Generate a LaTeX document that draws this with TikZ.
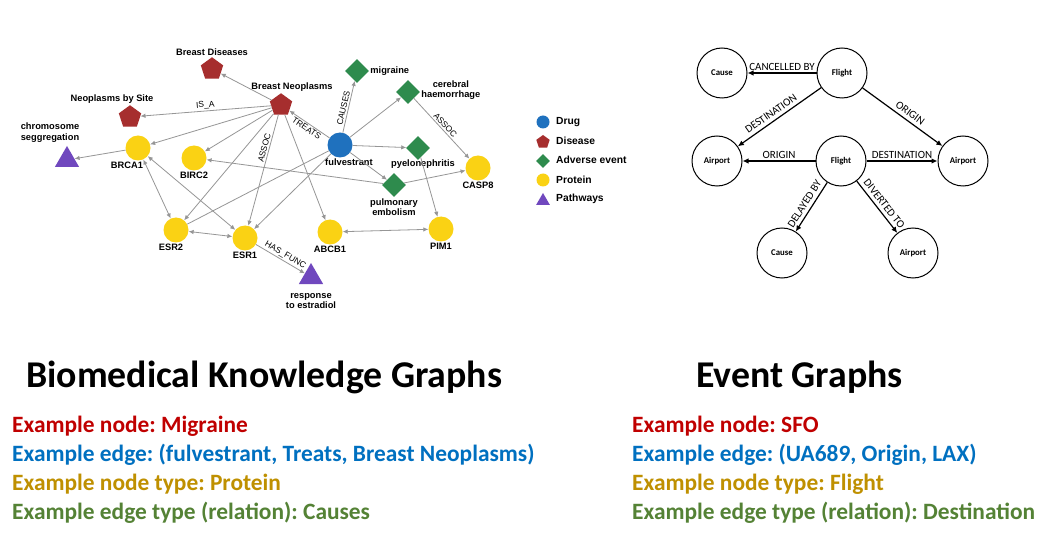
\documentclass[tikz,border=0pt]{standalone}
\usepackage{fontspec}
\setmainfont{Liberation Sans}
\newfontfamily\calibri{Carlito}
\usetikzlibrary{shapes.geometric,arrows.meta}
\definecolor{cdisease}{RGB}{166,46,46}
\definecolor{cadverse}{RGB}{46,139,77}
\definecolor{cdrug}{RGB}{31,113,190}
\definecolor{cprotein}{RGB}{250,210,20}
\definecolor{cpath}{RGB}{112,72,190}
\definecolor{cedge}{RGB}{150,150,150}
\definecolor{tred}{RGB}{192,0,0}
\definecolor{tblue}{RGB}{0,112,192}
\definecolor{tgold}{RGB}{191,144,0}
\definecolor{tgreen}{RGB}{84,130,53}
\frenchspacing
\begin{document}
\begin{tikzpicture}[x=1pt,y=-1pt,
  nlab/.style={font=\bfseries\fontsize{9.3}{10.5}\selectfont, inner sep=1pt, align=center},
  elab/.style={font=\fontsize{8.5}{9}\selectfont, inner sep=1.5pt},
  disease/.style={regular polygon, regular polygon sides=5, fill=cdisease, minimum size=23.5pt, inner sep=0pt},
  adverse/.style={diamond, fill=cadverse, minimum size=24pt, inner sep=0pt},
  drug/.style={circle, fill=cdrug, minimum size=25pt, inner sep=0pt},
  protein/.style={circle, fill=cprotein, minimum size=25pt, inner sep=0pt},
  pathway/.style={regular polygon, regular polygon sides=3, fill=cpath, minimum size=28pt, inner sep=0pt},
  gedge/.style={draw=cedge, line width=0.8pt, -{Latex[length=5pt,width=4.5pt]}},
  gboth/.style={draw=cedge, line width=0.8pt, {Latex[length=5pt,width=4.5pt]}-{Latex[length=5pt,width=4.5pt]}},
  gplain/.style={draw=cedge, line width=0.8pt},
  legtxt/.style={font=\bfseries\fontsize{10.3}{11}\selectfont, anchor=west, inner sep=0pt},
  ev/.style={circle, draw=black, line width=1pt, minimum size=50pt, inner sep=0pt, font=\calibri\bfseries\fontsize{8.8}{9}\selectfont},
  eedge/.style={draw=black, line width=1.2pt, -{Latex[length=6pt,width=5.5pt]}},
  evlab/.style={font=\calibri\fontsize{11}{12}\selectfont, inner sep=2pt},
  sevlab/.style={evlab, inner sep=3.5pt},
  title/.style={font=\calibri\bfseries\fontsize{37.8}{40}\selectfont, anchor=base west, inner sep=0pt},
  ex/.style={font=\calibri\bfseries\fontsize{23.4}{26}\selectfont, anchor=base west, inner sep=0pt}
]
\useasboundingbox (0,0) rectangle (1054,537);
\fill[white] (0,0) rectangle (1054,537);

% ---------- Biomedical knowledge graph ----------
\node[disease, label={[nlab]above:Breast Diseases}] (bd) at (212,69) {};
\node[disease, label={[nlab,xshift=11pt]above:Breast Neoplasms}] (bn) at (281,105) {};
\node[disease, label={[nlab,xshift=-18pt]above:Neoplasms by Site}] (nbs) at (130,117) {};
\node[pathway, label={[nlab,xshift=-17pt,yshift=2pt]above:chromosome\\seggregation}] (chr) at (67,160) {};
\node[protein, label={[nlab,xshift=-11pt]below:BRCA1}] (brca1) at (138,148) {};
\node[protein, label={[nlab]below:BIRC2}] (birc2) at (194,158) {};
\node[protein, label={[nlab,xshift=-5pt]below:ESR2}] (esr2) at (176,230) {};
\node[protein, label={[nlab]below:ESR1}] (esr1) at (245,238) {};
\node[pathway, label={[nlab,yshift=-8pt]below:response\\to estradiol}] (resp) at (311,277) {};
\node[protein, label={[nlab]below:ABCB1}] (abcb1) at (330,232) {};
\node[drug, label={[nlab,xshift=9pt]below:fulvestrant}] (ful) at (340,145) {};
\node[adverse, label={[nlab]right:migraine}] (mig) at (357,71) {};
\node[adverse, label={[nlab,yshift=2pt]right:cerebral\\haemorrhage}] (ceh) at (408,92) {};
\node[adverse, label={[nlab,xshift=5pt,yshift=2pt]below:pyelonephritis}] (pye) at (418,148) {};
\node[adverse, label={[nlab]below:pulmonary\\embolism}] (pul) at (394,185) {};
\node[protein, label={[nlab]below:CASP8}] (casp8) at (478,168) {};
\node[protein, label={[nlab]below:PIM1}] (pim1) at (441,229) {};

\draw[gedge] (bn) -- (bd);
\draw[gedge] (bn) -- node[elab, sloped, above] {IS\_A} (nbs);
\draw[gedge] (bn) -- (brca1);
\draw[gedge] (bn) -- (birc2);
\draw[gedge] (bn) -- (esr2);
\draw[gedge] (bn) -- node[elab, sloped, above, pos=0.31] {ASSOC} (esr1);
\draw[gedge] (bn) -- (abcb1);
\draw[gedge] (ful) -- node[elab, sloped, below] {TREATS} (bn);
\draw[gedge] (ful) -- node[elab, sloped, above, pos=0.45] {CAUSES} (mig);
\draw[gedge] (ful) -- (ceh);
\draw[gedge] (ful) -- (pye);
\draw[gedge] (ful) -- (pul);
\draw[gplain] (ful) -- (esr2);
\draw[gedge] (ful) -- (esr1);
\draw[gedge] (pul) -- (birc2);
\draw[gedge] (pul) -- (casp8);
\draw[gedge] (ceh) -- node[elab, sloped, above] {ASSOC} (casp8);
\draw[gedge] (pye) -- (pim1);
\draw[gboth] (abcb1) -- (pim1);
\draw[gboth] (esr2) -- (esr1);
\draw[gboth] (brca1) -- (esr2);
\draw[gboth] (brca1) -- (esr1);
\draw[gedge] (esr1) -- node[elab, sloped, above, pos=0.54] {HAS\_FUNC} (resp);
\draw[gedge] (brca1) -- (chr);

% legend
\node[drug, minimum size=13pt] (lm1) at (543,122) {};
\node[legtxt] (lt1) at (556,122) {Drug};
\node[disease, minimum size=14pt] (lm2) at (543,142) {};
\node[legtxt] (lt2) at (556,141) {Disease};
\node[adverse, minimum size=14pt] (lm3) at (543,161) {};
\node[legtxt] (lt3) at (556,160) {Adverse event};
\node[protein, minimum size=13pt] (lm4) at (543,180) {};
\node[legtxt] (lt4) at (556,180) {Protein};
\node[pathway, minimum size=16pt] (lm5) at (543,201) {};
\node[legtxt] (lt5) at (556,199) {Pathways};

% ---------- Event graph ----------
\node[ev] (c1) at (722,73) {Cause};
\node[ev] (f1) at (842,73) {Flight};
\node[ev] (a1) at (717,161) {Airport};
\node[ev] (f2) at (841,161) {Flight};
\node[ev] (a2) at (963,161) {Airport};
\node[ev] (c2) at (782,253) {Cause};
\node[ev] (a3) at (913,253) {Airport};

\draw[eedge] (f1) -- node[evlab, above] {CANCELLED BY} (c1);
\draw[eedge] (f1) -- node[sevlab, sloped, above, pos=0.55] {DESTINATION} (a1);
\draw[eedge] (f1) -- node[sevlab, sloped, above, pos=0.54] {ORIGIN} (a2);
\draw[eedge] (f2) -- node[evlab, above] {ORIGIN} (a1);
\draw[eedge] (f2) -- node[evlab, above] {DESTINATION} (a2);
\draw[eedge] (f2) -- node[sevlab, sloped, above, pos=0.52] {DELAYED BY} (c2);
\draw[eedge] (f2) -- node[sevlab, sloped, above, pos=0.53] {DIVERTED TO} (a3);

% ---------- Texts ----------
\node[title] (t1) at (26,387) {Biomedical Knowledge Graphs};
\node[title] (t2) at (696,387) {Event Graphs};
\node[ex, text=tred] (l1) at (12,432) {Example node: Migraine};
\node[ex, text=tblue] (l2) at (12,461) {Example edge: (fulvestrant, Treats, Breast Neoplasms)};
\node[ex, text=tgold] (l3) at (12,490) {Example node type: Protein};
\node[ex, text=tgreen] (l4) at (12,519) {Example edge type (relation): Causes};
\node[ex, text=tred] (r1) at (632,432) {Example node: SFO};
\node[ex, text=tblue] (r2) at (632,461) {Example edge: (UA689, Origin, LAX)};
\node[ex, text=tgold] (r3) at (632,490) {Example node type: Flight};
\node[ex, text=tgreen] (r4) at (632,519) {Example edge type (relation): Destination};
\end{tikzpicture}
\end{document}
